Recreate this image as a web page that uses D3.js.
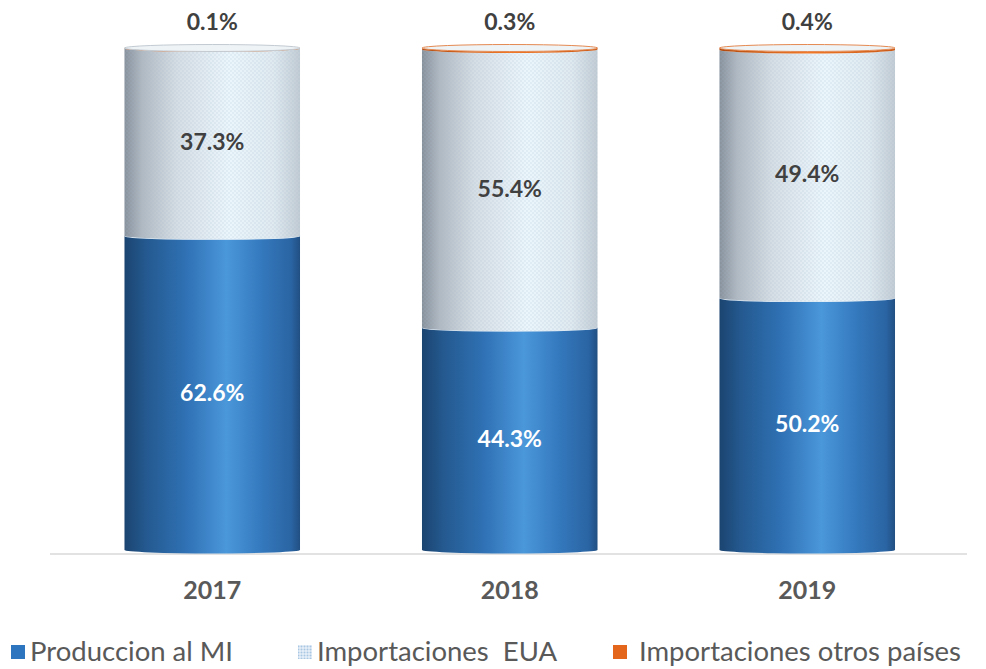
<!DOCTYPE html>
<html><head><meta charset="utf-8">
<script src="https://cdn.jsdelivr.net/npm/d3@7"></script>
<style>body{margin:0;background:#fff}svg{display:block}</style>
</head><body>
<svg id="c" width="986" height="669"></svg>
<script>
const years = ["2017", "2018", "2019"];
const seriesNames = ["Produccion al MI", "Importaciones  EUA", "Importaciones otros países"];
const produccion = [62.6, 44.3, 50.2];
const importEUA = [37.3, 55.4, 49.4];
const importOtros = [0.1, 0.3, 0.4];

const svg = d3.select("#c");
const defs = svg.append("defs");

function lin(id, stops) {
  const g = defs.append("linearGradient").attr("id", id).attr("x1", "0").attr("x2", "1").attr("y1", "0").attr("y2", "0");
  stops.forEach(s => g.append("stop").attr("offset", s[0]).attr("stop-color", s[1]));
}
lin("gBlue", [[0, "#1b4470"], [0.12, "#24598f"], [0.35, "#2f71b4"], [0.58, "#4a97da"], [0.78, "#3479bd"], [0.95, "#2a64a3"], [1, "#214f82"]]);
lin("gLight", [[0, "#87919c"], [0.1, "#b0b9c2"], [0.3, "#d6dee5"], [0.6, "#ebf6fc"], [0.85, "#dfe9f0"], [1, "#c2ccd4"]]);
lin("gOrange", [[0, "#b04a10"], [0.5, "#f07828"], [1, "#c85a18"]]);
const pat = defs.append("pattern").attr("id", "dots").attr("width", 4).attr("height", 4).attr("patternUnits", "userSpaceOnUse");
pat.append("circle").attr("cx", 1).attr("cy", 1).attr("r", 0.8).attr("fill", "#9fb4c6").attr("opacity", 0.35);
pat.append("circle").attr("cx", 3).attr("cy", 3).attr("r", 0.8).attr("fill", "#9fb4c6").attr("opacity", 0.35);
const pat2 = defs.append("pattern").attr("id", "dotsL").attr("width", 3).attr("height", 3).attr("patternUnits", "userSpaceOnUse");
pat2.append("rect").attr("width", 3).attr("height", 3).attr("fill", "#e6f0f9");
pat2.append("circle").attr("cx", 1.5).attr("cy", 1.5).attr("r", 1).attr("fill", "#a9c6e2");

const rows = years.map((y, i) => ({year: y, a: produccion[i], b: importEUA[i], c: importOtros[i]}));
const stack = d3.stack().keys(["a", "b", "c"])(rows);

const x = d3.scaleBand().domain(years).range([63.5, 956]).paddingInner(0.41).paddingOuter(0.205);
const y = d3.scaleLinear().domain([0, 100]).range([550, 48]);
const ry = 3.5;

const fills = {a: "url(#gBlue)", b: "url(#gLight)", c: "url(#gOrange)"};

svg.append("line").attr("x1", 50).attr("x2", 967).attr("y1", 554).attr("y2", 554)
  .attr("stroke", "#d9d9d9").attr("stroke-width", 1.5);

function segPath(x0, x1, yTop, yBot) {
  const rx = (x1 - x0) / 2;
  return `M${x0},${yTop} A${rx},${ry} 0 0 0 ${x1},${yTop} L${x1},${yBot} A${rx},${ry} 0 0 1 ${x0},${yBot} Z`;
}

const g = svg.append("g");
stack.forEach(layer => {
  const key = layer.key;
  if (key === "c") return;
  layer.forEach((d, i) => {
    const x0 = x(years[i]), x1 = x0 + x.bandwidth();
    const yTop = y(d[1]), yBot = y(d[0]);
    g.append("path").attr("d", segPath(x0, x1, yTop, yBot)).attr("fill", fills[key]);
    if (key === "b") g.append("path").attr("d", segPath(x0, x1, yTop, yBot)).attr("fill", "url(#dots)");
    if (key === "a") g.append("path").attr("d", `M${x0},${yTop} A${(x1-x0)/2},${ry} 0 0 0 ${x1},${yTop}`)
      .attr("fill", "none").attr("stroke", "#dbe8f3").attr("stroke-width", 1.2);
  });
});
stack[2].forEach((d, i) => {
  const x0 = x(years[i]), x1 = x0 + x.bandwidth(), cx = (x0 + x1) / 2, rx = (x1 - x0) / 2;
  const yTop = y(d[1]), yBot = y(d[0]);
  g.append("path").attr("d", segPath(x0, x1, yTop, yBot)).attr("fill", "url(#gOrange)");
  g.append("ellipse").attr("cx", cx).attr("cy", yTop).attr("rx", rx).attr("ry", ry)
    .attr("fill", "#eef3f6").attr("stroke", d[1] - d[0] > 0.2 ? "#e58a52" : "#c3cbd2").attr("stroke-width", 1);
});

const lab = svg.append("g").attr("font-family", "Lato, 'Open Sans', sans-serif").attr("font-weight", "bold").attr("text-anchor", "middle");
stack.forEach(layer => {
  layer.forEach((d, i) => {
    const cx = x(years[i]) + x.bandwidth() / 2;
    const v = d[1] - d[0];
    let ty, col;
    if (layer.key === "c") { ty = 22; col = "#404040"; }
    else { ty = (y(d[0]) + y(d[1])) / 2; col = layer.key === "a" ? "#ffffff" : "#404040"; }
    lab.append("text").attr("x", cx).attr("y", ty).attr("dy", "0.35em").attr("font-size", 23)
      .attr("fill", col).text(v.toFixed(1) + "%");
  });
});
years.forEach(yr => {
  lab.append("text").attr("x", x(yr) + x.bandwidth() / 2).attr("y", 590).attr("dy", "0.35em")
    .attr("font-size", 25).attr("fill", "#595959").text(yr);
});

const legend = svg.append("g").attr("font-family", "Lato, 'Open Sans', sans-serif").attr("font-size", 27.5).attr("fill", "#595959");
const legItems = [
  {name: seriesNames[0], fill: "#2e75c0", sx: 11, tx: 30},
  {name: seriesNames[1], fill: "url(#dotsL)", sx: 298, tx: 317},
  {name: seriesNames[2], fill: "#e4661c", sx: 613, tx: 639}
];
legItems.forEach(it => {
  legend.append("rect").attr("x", it.sx).attr("y", 645).attr("width", 14).attr("height", 14).attr("fill", it.fill);
  legend.append("text").attr("x", it.tx).attr("y", 661)
    .style("white-space", "pre").text(it.name);
});
</script>
</body></html>
